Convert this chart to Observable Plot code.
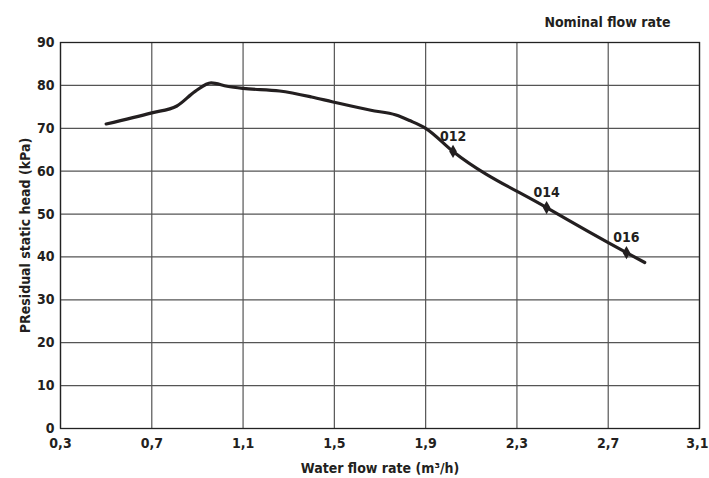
<!DOCTYPE html>
<html>
<head>
<meta charset="utf-8">
<script src="https://cdn.jsdelivr.net/npm/d3@7"></script>
<script src="https://cdn.jsdelivr.net/npm/@observablehq/plot@0.6"></script>
<style>
  html, body { margin: 0; padding: 0; background: #fff; }
  #chart svg { display: block; }
</style>
</head>
<body>
<div id="chart"></div>
<script>
// Curve: water flow rate (m³/h) vs residual static head (kPa)
const flow = [0.5, 0.7, 0.81, 0.89, 0.96, 1.03, 1.1, 1.26, 1.4, 1.49, 1.66, 1.77, 1.83, 1.9, 2.02, 2.43, 2.78, 2.86];
const head = [71.0, 73.6, 75.2, 78.6, 80.6, 79.8, 79.3, 78.7, 77.3, 76.2, 74.2, 73.1, 71.8, 70.0, 64.6, 51.5, 41.0, 38.7];

// Nominal flow rate markers
const nominalLabels = ["012", "014", "016"];
const nominalFlow = [2.02, 2.43, 2.78];
const nominalHead = [64.6, 51.5, 41.0];

const xTicks = [0.3, 0.7, 1.1, 1.5, 1.9, 2.3, 2.7, 3.1];
const yTicks = [0, 10, 20, 30, 40, 50, 60, 70, 80, 90];

const titleText = "Nominal flow rate";
const xLabel = "Water flow rate (m³/h)";
const yLabel = "PResidual static head (kPa)";

const curve = flow.map((x, i) => ({x, y: head[i]}));
const nominal = nominalLabels.map((label, i) => ({label, x: nominalFlow[i], y: nominalHead[i]}));

const fontFamily = "'DejaVu Sans Condensed', 'Liberation Sans Narrow', sans-serif";
const fmt = d => d3.format(".1f")(d).replace(".", ",");
const lastTick = xTicks[xTicks.length - 1];

const chart = Plot.plot({
  width: 709,
  height: 478,
  marginLeft: 60,
  marginRight: 10,
  marginTop: 42,
  marginBottom: 50,
  style: {fontFamily, fontSize: "14px", fontWeight: "bold", color: "#231f20", background: "#fff"},
  x: {domain: [0.3, 3.1]},
  y: {domain: [0, 90]},
  marks: [
    Plot.gridX(xTicks, {stroke: "#555", strokeOpacity: 1, strokeWidth: 1.2}),
    Plot.gridY(yTicks, {stroke: "#555", strokeOpacity: 1, strokeWidth: 1.2}),
    Plot.frame({stroke: "#222", strokeWidth: 1.3}),
    Plot.line(curve, {x: "x", y: "y", curve: "monotone-x", stroke: "#231f20", strokeWidth: 3.2, strokeLinecap: "round", strokeLinejoin: "round"}),
    Plot.dot(nominal, {x: "x", y: "y", symbol: "diamond", r: 4, fill: "#231f20", stroke: "none"}),
    Plot.text(nominal, {x: "x", y: "y", text: "label", dy: -15, fontSize: 14, fontWeight: "bold", fill: "#231f20"}),
    Plot.axisX(xTicks.filter(t => t !== lastTick), {tickSize: 0, tickPadding: 10, tickFormat: fmt, fontSize: 14, label: null}),
    Plot.axisX([lastTick], {tickSize: 0, tickPadding: 10, tickFormat: fmt, fontSize: 14, label: null, textAnchor: "end", dx: 9}),
    Plot.axisY(yTicks, {tickSize: 0, tickPadding: 6, fontSize: 14, label: null}),
    Plot.text([xLabel], {frameAnchor: "bottom", dy: 44, fontSize: 14, fontWeight: "bold", fill: "#231f20"}),
    Plot.text([yLabel], {frameAnchor: "left", dx: -35, rotate: -90, textAnchor: "middle", fontSize: 14, fontWeight: "bold", fill: "#231f20"}),
    Plot.text([titleText], {frameAnchor: "top-right", dx: -29, dy: -25, fontSize: 14, fontWeight: "bold", fill: "#231f20", textAnchor: "end"})
  ]
});
document.getElementById("chart").appendChild(chart);
</script>
</body>
</html>
